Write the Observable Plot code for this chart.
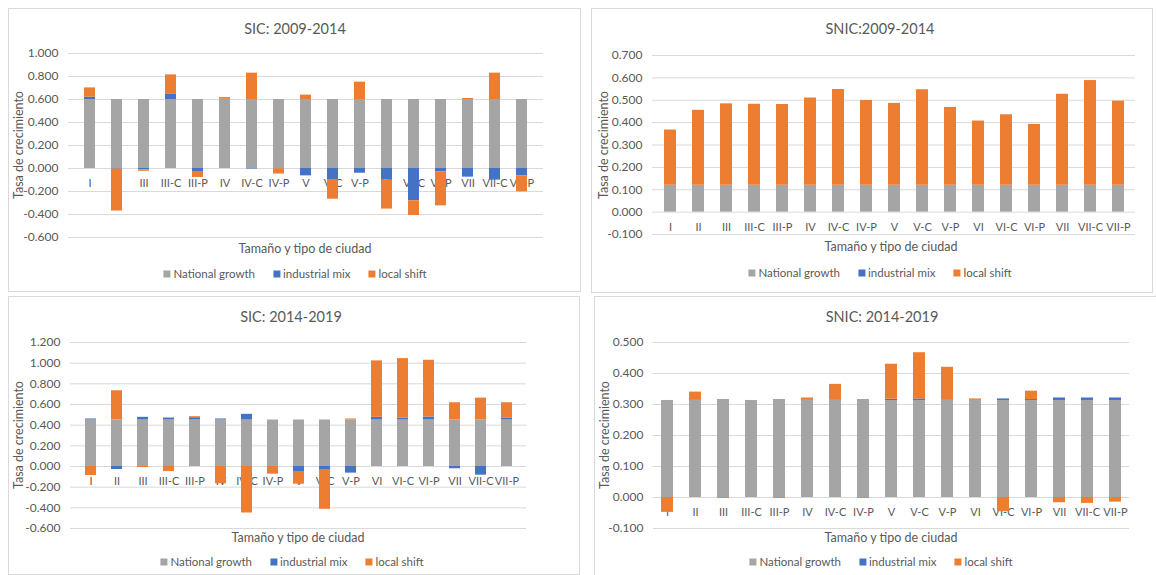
<!DOCTYPE html>
<html>
<head>
<meta charset="utf-8">
<script src="https://cdn.jsdelivr.net/npm/d3@7"></script>
<script src="https://cdn.jsdelivr.net/npm/@observablehq/plot@0.6"></script>
<style>
  body { margin: 0; background: #fff; font-family: Lato, "Open Sans", sans-serif; color: #595959; }
  #root { position: relative; width: 1156px; height: 575px; overflow: hidden; }
  .box { position: absolute; border: 1px solid #d9d9d9; box-sizing: border-box; }
  .abs { position: absolute; white-space: nowrap; }
  .title { font-size: 14.5px; transform: translate(-50%, -50%); }
  .xlab { font-size: 12.5px; transform: translate(-50%, -50%); }
  .ylab { font-size: 12.5px; transform: translate(-50%, -50%) rotate(-90deg); }
  .legend { font-size: 11.5px; transform: translate(-50%, -50%); display: flex; gap: 18px; align-items: center; }
  .legend span.sw { display: inline-block; width: 7px; height: 7px; margin-right: 3px; vertical-align: middle; position: relative; top: -1px; }
  svg { position: absolute; }
</style>
</head>
<body>
<div id="root"></div>
<script>
const categories = ["I","II","III","III-C","III-P","IV","IV-C","IV-P","V","V-C","V-P","VI","VI-C","VI-P","VII","VII-C","VII-P"];
const seriesNames = ["National growth","industrial mix","local shift"];
const seriesColors = ["#a5a5a5","#4472c4","#ed7d31"];

// SIC 2009-2014
const sic0914National   = [0.600,0.600,0.600,0.600,0.600,0.600,0.600,0.600,0.600,0.600,0.600,0.600,0.600,0.600,0.600,0.600,0.600];
const sic0914Industrial = [0.020,-0.005,-0.012,0.049,-0.026,0.002,-0.005,-0.002,-0.064,-0.096,-0.041,-0.101,-0.281,-0.029,-0.075,-0.101,-0.064];
const sic0914Local      = [0.081,-0.365,-0.012,0.165,-0.052,0.015,0.229,-0.046,0.038,-0.171,0.151,-0.252,-0.128,-0.296,0.009,0.229,-0.139];
const sic0914Ticks = [-0.6,-0.4,-0.2,0,0.2,0.4,0.6,0.8,1.0];

// SNIC 2009-2014
const snic0914National   = [0.120,0.120,0.120,0.120,0.120,0.120,0.120,0.120,0.120,0.120,0.120,0.120,0.120,0.120,0.120,0.120,0.120];
const snic0914Industrial = [0.000,0.000,0.000,0.000,0.000,0.000,0.000,0.000,0.000,0.000,0.000,0.000,0.000,0.000,0.000,0.000,0.000];
const snic0914Local      = [0.247,0.335,0.364,0.362,0.361,0.390,0.428,0.379,0.366,0.427,0.348,0.287,0.315,0.272,0.407,0.468,0.376];
const snic0914Ticks = [-0.1,0,0.1,0.2,0.3,0.4,0.5,0.6,0.7];

// SIC 2014-2019
const sic1419National   = [0.450,0.450,0.450,0.450,0.450,0.450,0.450,0.450,0.450,0.450,0.450,0.450,0.450,0.450,0.450,0.450,0.450];
const sic1419Industrial = [0.010,-0.029,0.026,0.019,0.022,0.010,0.055,0.000,-0.055,-0.029,-0.064,0.026,0.019,0.029,-0.022,-0.084,0.016];
const sic1419Local      = [-0.087,0.283,-0.010,-0.048,0.010,-0.167,-0.450,-0.074,-0.116,-0.385,0.010,0.546,0.575,0.549,0.167,0.212,0.151];
const sic1419Ticks = [-0.6,-0.4,-0.2,0,0.2,0.4,0.6,0.8,1.0,1.2];

// SNIC 2014-2019
const snic1419National   = [0.313,0.313,0.313,0.313,0.313,0.313,0.313,0.313,0.313,0.313,0.313,0.313,0.313,0.313,0.313,0.313,0.313];
const snic1419Industrial = [0.000,0.002,0.002,0.000,0.002,0.002,0.002,0.002,0.004,0.005,0.002,0.002,0.005,0.003,0.008,0.008,0.008];
const snic1419Local      = [-0.048,0.025,-0.003,0.000,-0.003,0.006,0.050,-0.003,0.113,0.149,0.105,0.003,-0.046,0.027,-0.017,-0.019,-0.015];
const snic1419Ticks = [-0.1,0,0.1,0.2,0.3,0.4,0.5];

const root = document.getElementById("root");

function el(cls, text, x, y) {
  const d = document.createElement("div");
  d.className = "abs " + cls;
  if (text != null) d.textContent = text;
  d.style.left = x + "px";
  d.style.top = y + "px";
  root.appendChild(d);
  return d;
}

function panel(cfg) {
  const box = document.createElement("div");
  box.className = "box";
  Object.assign(box.style, {left: cfg.box[0]+"px", top: cfg.box[1]+"px", width: cfg.box[2]+"px", height: cfg.box[3]+"px"});
  root.appendChild(box);

  const rows = [];
  [cfg.national, cfg.industrial, cfg.local].forEach((arr, si) => {
    arr.forEach((v, i) => rows.push({cat: categories[i], series: seriesNames[si], value: v}));
  });

  const mL = 60, mR = 6, mT = 8, mB = 8;
  const [x0, x1, y0, y1] = cfg.plot;
  const chart = Plot.plot({
    width: (x1 - x0) + mL + mR,
    height: (y1 - y0) + mT + mB,
    marginLeft: mL, marginRight: mR, marginTop: mT, marginBottom: mB,
    style: {fontFamily: "Lato, 'Open Sans', sans-serif", fontSize: "12px", color: "#595959", background: "transparent", overflow: "visible"},
    x: {domain: categories, paddingInner: 0.58, paddingOuter: 0.29, axis: null},
    y: {domain: cfg.domain, ticks: cfg.ticks, tickFormat: d => d.toFixed(3), tickSize: 0, tickPadding: 10, label: null},
    color: {domain: seriesNames, range: seriesColors},
    marks: [
      Plot.ruleY(cfg.ticks, {stroke: "#d9d9d9", strokeWidth: 1}),
      Plot.text(categories, {x: d => d, y: 0, dy: 15, fill: "#595959", fontSize: 11}),
      Plot.barY(rows, Plot.stackY({x: "cat", y: "value", fill: "series", order: null}))
    ]
  });
  chart.style.left = (x0 - mL) + "px";
  chart.style.top = (y0 - mT) + "px";
  root.appendChild(chart);

  el("title", cfg.title, cfg.titlePos[0], cfg.titlePos[1]);
  el("xlab", "Tamaño y tipo de ciudad", cfg.xlabPos[0], cfg.xlabPos[1]);
  el("ylab", "Tasa de crecimiento", cfg.ylabPos[0], cfg.ylabPos[1]);
  const lg = el("legend", null, cfg.legendPos[0], cfg.legendPos[1]);
  seriesNames.forEach((n, i) => {
    const item = document.createElement("div");
    item.innerHTML = `<span class="sw" style="background:${seriesColors[i]}"></span>${n}`;
    lg.appendChild(item);
  });
}

panel({
  title: "SIC: 2009-2014", box: [8, 8, 573, 284], plot: [68, 543, 53, 237], domain: [-0.6, 1.0], ticks: sic0914Ticks,
  national: sic0914National, industrial: sic0914Industrial, local: sic0914Local,
  titlePos: [295, 28], xlabPos: [305, 248], ylabPos: [18, 145], legendPos: [295, 273]
});
panel({
  title: "SNIC:2009-2014", box: [591, 8, 562, 285], plot: [652, 1135, 55, 234], domain: [-0.1, 0.7], ticks: snic0914Ticks,
  national: snic0914National, industrial: snic0914Industrial, local: snic0914Local,
  titlePos: [880, 28], xlabPos: [891, 246], ylabPos: [603, 145], legendPos: [880, 272]
});
panel({
  title: "SIC: 2014-2019", box: [8, 296, 572, 279], plot: [70, 526, 342, 528], domain: [-0.6, 1.2], ticks: sic1419Ticks,
  national: sic1419National, industrial: sic1419Industrial, local: sic1419Local,
  titlePos: [291, 316], xlabPos: [298, 537], ylabPos: [18, 435], legendPos: [292, 561]
});
panel({
  title: "SNIC: 2014-2019", box: [594, 296, 580, 290], plot: [653, 1129, 342, 528], domain: [-0.1, 0.5], ticks: snic1419Ticks,
  national: snic1419National, industrial: snic1419Industrial, local: snic1419Local,
  titlePos: [882, 316], xlabPos: [891, 537], ylabPos: [604, 435], legendPos: [881, 561]
});
</script>
</body>
</html>
